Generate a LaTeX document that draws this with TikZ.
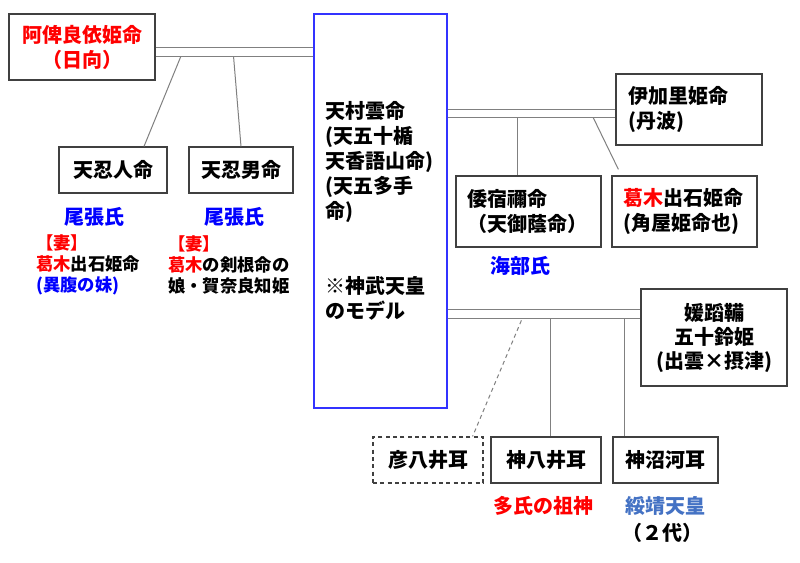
\documentclass[tikz,border=0pt]{standalone}
\usepackage{fontspec}
\setmainfont{Noto Sans CJK JP}
\usetikzlibrary{calc}
\definecolor{linegray}{RGB}{128,128,128}
\definecolor{boxgray}{RGB}{64,64,64}
\definecolor{jred}{RGB}{255,0,0}
\definecolor{jblue}{RGB}{0,0,255}
\definecolor{lblue}{RGB}{68,114,196}
\definecolor{mblue}{RGB}{51,51,255}
\begin{document}
\begin{tikzpicture}[x=0.75pt,y=-0.75pt,
 box/.style={draw=boxgray, line width=0.9pt, inner sep=0pt, font=\bfseries\fontsize{15}{18.75}\selectfont, align=center},
 lbox/.style={box, align=left, inner xsep=8.25pt},
 link/.style={draw=linegray, line width=0.75pt},
 dlink/.style={link, dash pattern=on 3pt off 2.5pt},
 lab/.style={font=\bfseries\fontsize{15}{18.75}\selectfont, inner sep=0pt},
 note/.style={font=\bfseries\fontsize{13}{15.75}\selectfont, inner sep=0pt, align=left}]
\useasboundingbox (0,0) rectangle (800,563);
\fill[white] (0,0) rectangle (800,563);
% boxes
\node[box, minimum width=109.5pt, minimum height=49.5pt, text=jred] (A) at (82,47) {阿俾良依姫命\\（日向）};
\node[box, minimum width=81pt, minimum height=34.5pt] (B) at (113,170) {天忍人命};
\node[box, minimum width=78pt, minimum height=34.5pt] (C) at (241,170) {天忍男命};
\node[lbox, draw=mblue, text width=83.25pt, minimum height=295.5pt] (M) at (380.5,211) {天村雲命\\(天五十楯\\天香語山命)\\(天五多手\\命)\\[37.5pt]※神武天皇\\のモデル};
\node[lbox, inner xsep=9pt, text width=91.5pt, minimum height=53.25pt] (D) at (689,109.5) {伊加里姫命\\(丹波)};
\node[lbox, text width=92.25pt, minimum height=53.25pt] (E) at (528.5,211.5) {倭宿禰命\\（天御蔭命）};
\node[lbox, text width=92.25pt, minimum height=53.25pt] (F) at (684.5,211.5) {\textcolor{jred}{葛木}出石姫命\\(角屋姫命也)};
\node[box, minimum width=109.5pt, minimum height=72.75pt, font=\bfseries\fontsize{15}{18}\selectfont] (G) at (714,337.5) {媛蹈鞴\\五十鈴姫\\(出雲×摂津)};
\node[box, dash pattern=on 3pt off 2.5pt, minimum width=82.5pt, minimum height=34.5pt] (H) at (428,460) {彦八井耳};
\node[box, minimum width=82.5pt, minimum height=34.5pt] (I) at (546,460) {神八井耳};
\node[box, minimum width=78.75pt, minimum height=34.5pt] (J) at (665.5,460) {神沼河耳};
% labels
\node[lab, text=jblue] (o1) at (94,217) {尾張氏};
\node[lab, text=jblue] (o2) at (234,217) {尾張氏};
\node[note, anchor=west] (w1) at (36,265) {\textcolor{jred}{【妻】}\\\textcolor{jred}{葛木}出石姫命\\\textcolor{jblue}{(異腹の妹)}};
\node[note, anchor=west] (w2) at (168,265) {\textcolor{jred}{【妻】}\\\textcolor{jred}{葛木}の剣根命の\\娘・賀奈良知姫};
\node[lab, text=jblue] (ama) at (520,266) {海部氏};
\node[lab, text=jred] (oo) at (543,506) {多氏の祖神};
\node[lab, text=lblue] (su) at (665,506) {綏靖天皇};
\node[lab] (nd) at (662,533) {（２代）};
% A -- M
\coordinate (a1) at ($(A.east)+(0,1)$);
\coordinate (a2) at ($(A.east)+(0,10)$);
\draw[link] (a1) -- (a1 -| M.west);
\draw[link] (a2) -- (a2 -| M.west);
\coordinate (b1) at ($(B.north)+(31,0)$);
\draw[link] ($(a2)+(25,0)$) -- (b1);
\draw[link] ($(a2)+(78,0)$) -- (C.north);
% M -- D
\coordinate (d1) at ($(D.west)+(0,0.5)$);
\coordinate (d2) at ($(D.west)+(0,8.5)$);
\draw[link] (d1 -| M.east) -- (d1);
\draw[link] (d2 -| M.east) -- (d2);
\coordinate (e1) at ($(E.north)+(-11.5,0)$);
\draw[link] (e1 |- d2) -- (e1);
\coordinate (f1) at ($(F.north west)+(7,-6)$);
\draw[link] ($(d2)+(-22,0)$) -- (f1);
% M -- G
\coordinate (g1) at ($(G.north west)+(0,21)$);
\coordinate (g2) at ($(G.north west)+(0,30)$);
\draw[link] (g1 -| M.east) -- (g1);
\draw[link] (g2 -| M.east) -- (g2);
\coordinate (h1) at ($(H.north east)+(-11,0)$);
\draw[dlink] ($(g2)+(-119,2)$) -- (h1);
\coordinate (i1) at ($(I.north)+(4,0)$);
\draw[link] (i1 |- g2) -- (i1);
\coordinate (j1) at ($(J.north west)+(12,0)$);
\draw[link] (j1 |- g2) -- (j1);
\end{tikzpicture}
\end{document}
